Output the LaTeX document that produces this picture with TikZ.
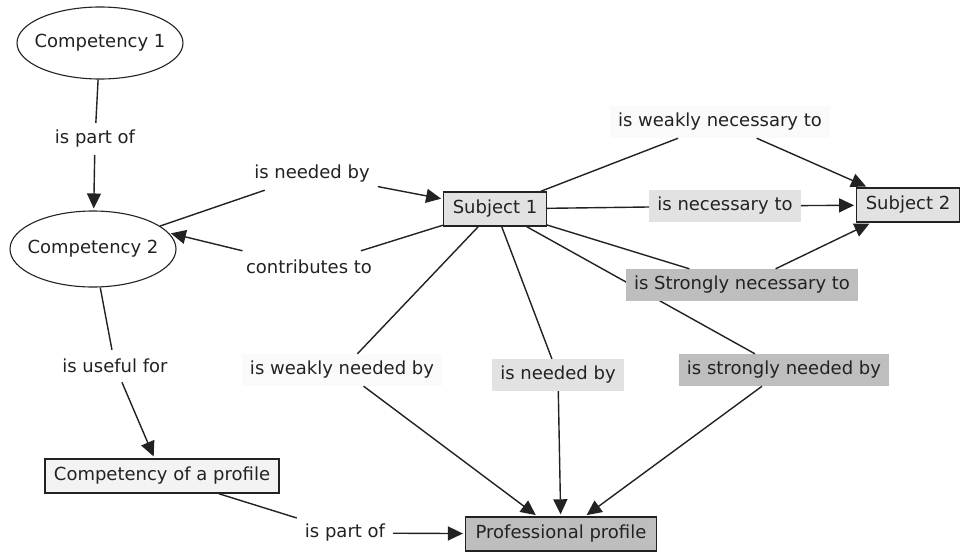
\documentclass[tikz,border=0pt]{standalone}
\usepackage{fontspec}
\setmainfont{DejaVu Sans}
\usetikzlibrary{shapes.geometric,arrows.meta}
\definecolor{lgray}{HTML}{E2E2E2}
\definecolor{dgray}{HTML}{BEBEBE}
\definecolor{wgray}{HTML}{FAFAFA}
\definecolor{cgray}{HTML}{F3F3F3}
\definecolor{ink}{HTML}{222222}
\tikzset{
  every node/.style={font=\fontsize{18}{22}\selectfont, text=ink},
  ell/.style={ellipse, draw=ink, line width=1.1pt, fill=white, minimum width=166pt, minimum height=72pt, inner xsep=-7pt, inner ysep=0pt},
  concept/.style={draw=ink, line width=1.4pt, minimum height=34pt, inner xsep=9pt, inner ysep=0pt},
  lbl/.style={minimum height=32pt, inner xsep=8pt, inner ysep=0pt},
  conn/.style={line width=1.4pt, draw=ink},
  arr/.style={conn, shorten >=2pt, -{Triangle[length=15pt,width=14pt]}}
}
\begin{document}
\begin{tikzpicture}[x=1pt,y=-1pt]
\useasboundingbox[fill=white] (0,0) rectangle (961,552);
% concepts
\node[ell] (c1) at (100,43) {Competency 1};
\node[ell, minimum height=76pt] (c2) at (93,249) {Competency 2};
\node[concept, fill=lgray] (s1) at (495,209) {Subject 1};
\node[concept, fill=lgray] (s2) at (908,205) {Subject 2};
\node[concept, fill=cgray] (cp) at (162,476) {Competency of a profile};
\node[concept, fill=dgray, inner xsep=10pt] (pp) at (561,534) {Professional profile};
% labels
\node[lbl, fill=white] (l1) at (95,139) {is part of};
\node[lbl, fill=white] (l2) at (312,174) {is needed by};
\node[lbl, fill=white] (l3) at (309,267) {contributes to};
\node[lbl, fill=white] (l4) at (115,366) {is useful for};
\node[lbl, fill=white] (l5) at (345,533) {is part of};
\node[lbl, fill=wgray] (l6) at (720,122) {is weakly necessary to};
\node[lbl, fill=lgray] (l7) at (725,206) {is necessary to};
\node[lbl, fill=wgray] (l9) at (342,370) {is weakly needed by};
\node[lbl, fill=lgray] (l10) at (558,375) {is needed by};
\node[lbl, fill=dgray] (l11) at (784,370) {is strongly needed by};
% connectors (drawn before the label that overlaps one of them)
\draw[conn] (s1) -- (l11);
\node[lbl, fill=dgray] (l8) at (742,285) {is Strongly necessary to};
\draw[conn] (c1) -- (l1);
\draw[arr] (l1) -- (c2);
\draw[conn] (c2) -- (l2);
\draw[arr] (l2) -- (s1);
\draw[conn] (s1) -- (l3);
\draw[arr] (l3) -- (c2.12);
\draw[conn] (c2) -- (l4);
\draw[arr] (l4) -- (cp);
\draw[conn] (cp) -- (l5);
\draw[arr] (l5) -- (pp);
\draw[conn] (s1) -- (l6);
\draw[arr] (l6) -- (s2);
\draw[conn] (s1) -- (l7);
\draw[arr] (l7) -- (s2);
\draw[conn] (s1) -- (l8);
\draw[arr] (l8) -- (s2);
\draw[conn] (s1) -- (l9);
\draw[arr] (l9) -- (pp);
\draw[conn] (s1) -- (l10);
\draw[arr] (l10) -- (pp);
\draw[arr] (l11) -- (pp);
\end{tikzpicture}
\end{document}
